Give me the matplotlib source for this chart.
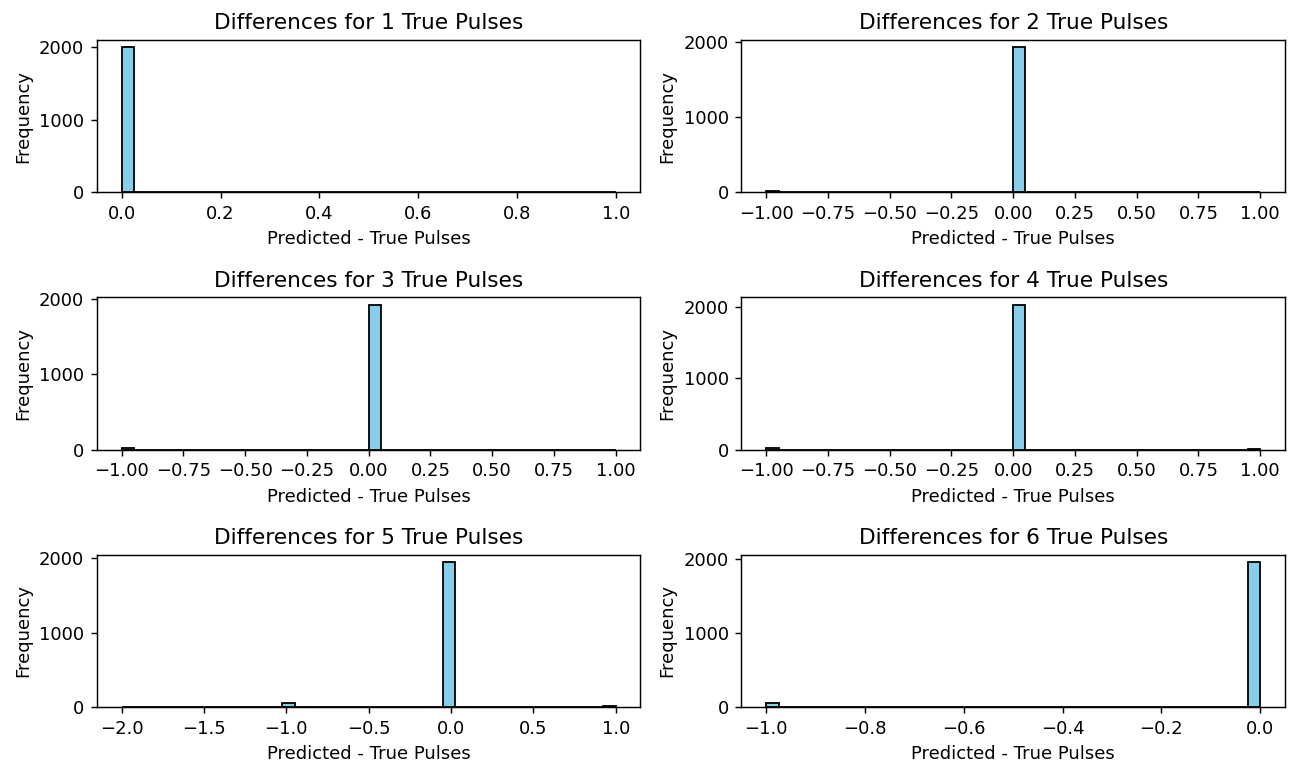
import numpy as np
import matplotlib
matplotlib.use("Agg")
import matplotlib.pyplot as plt

# Difference values (predicted - true) and how often each occurred, per true-pulse count
true_pulses = [1, 2, 3, 4, 5, 6]

diffs_1 = [0, 1]
counts_1 = [1996, 1]

diffs_2 = [-1, 0, 1]
counts_2 = [12, 1935, 1]

diffs_3 = [-1, 0, 1]
counts_3 = [18, 1925, 1]

diffs_4 = [-1, 0, 1]
counts_4 = [28, 2035, 15]

diffs_5 = [-2, -1, 0, 1]
counts_5 = [1, 50, 1950, 8]

diffs_6 = [-1, 0]
counts_6 = [55, 1965]

all_diffs = [diffs_1, diffs_2, diffs_3, diffs_4, diffs_5, diffs_6]
all_counts = [counts_1, counts_2, counts_3, counts_4, counts_5, counts_6]
freq_ticks = [0, 1000, 2000]

DPI = 130
fig, axes = plt.subplots(3, 2, figsize=(1290 / DPI, 766 / DPI), dpi=DPI)
fig.subplots_adjust(left=0.0752, right=0.996, top=0.9478, bottom=0.077,
                    wspace=0.186, hspace=0.69)

for ax, n, d, c in zip(axes.flat, true_pulses, all_diffs, all_counts):
    samples = np.repeat(np.array(d, dtype=float), c)
    ax.hist(samples, bins=40, color="skyblue", edgecolor="black")
    ax.set_yticks(freq_ticks)
    ax.set_title(f"Differences for {n} True Pulses")
    ax.set_xlabel("Predicted - True Pulses")
    ax.set_ylabel("Frequency")

fig.savefig("out.png", dpi=DPI)
